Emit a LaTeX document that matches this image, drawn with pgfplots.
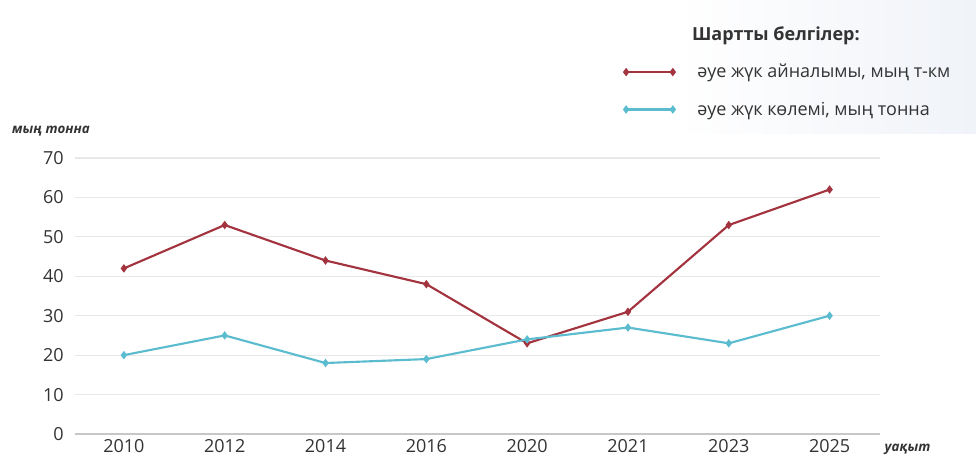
\documentclass[border=0pt]{standalone}
\usepackage{fontspec}
\setmainfont{Open Sans}
\usepackage{pgfplots}
\pgfplotsset{compat=1.18}

\definecolor{turnred}{HTML}{A3343F}
\definecolor{volblue}{HTML}{5CBCCF}
\definecolor{gridgray}{HTML}{E8E8E8}
\definecolor{ticktext}{HTML}{333333}
\definecolor{panel}{HTML}{F0F3F8}

\begin{document}
\begin{tikzpicture}
    % page = 976x459 px, 1px = 0.75pt, origin at lower left of the plot box
    \useasboundingbox (-56.25pt,-19pt) rectangle (675.75pt,325.5pt);
    \shade[left color=white, right color=panel] (450pt,225pt) rectangle (675.75pt,325.5pt);
    \begin{axis}[
        scale only axis,
        width=603.75pt, height=207pt,
        xmin=-0.485, xmax=7.5,
        ymin=0, ymax=70,
        xtick={0,...,7},
        xticklabels={2010,2012,2014,2016,2020,2021,2023,2025},
        ytick={0,10,...,70},
        ymajorgrids,
        grid style={gridgray, line width=0.8pt},
        axis x line*=bottom,
        axis y line*=left,
        x axis line style={draw=black!22, line width=1pt, -},
        y axis line style={draw=none},
        major tick length=0pt,
        tick label style={font=\fontsize{13.5}{15}\selectfont, text=ticktext},
        xticklabel style={inner sep=1.2pt, yshift=-3pt},
        yticklabel style={xshift=-5pt},
        /pgf/number format/assume math mode=true,
        xlabel={\fontsize{10}{12}\selectfont\bfseries\itshape уақыт},
        every axis x label/.style={at={(rel axis cs:1.003,-0.055)}, anchor=west, text=ticktext, inner sep=1.5pt},
        ylabel={\fontsize{10}{12}\selectfont\bfseries\itshape мың тонна},
        every axis y label/.style={at={(rel axis cs:-0.084,1.098)}, anchor=west, text=ticktext},
        legend style={
            at={(rel axis cs:0.677,1.497)}, anchor=north west,
            draw=none, fill=none,
            font=\fontsize{13.5}{16}\selectfont,
            row sep=12.5pt,
            text=ticktext,
        },
        legend cell align=left,
        legend image code/.code={\draw[#1, mark repeat=1] plot coordinates {(0pt,0pt) (35pt,0pt)};},
        every axis plot/.append style={line width=1.6pt, mark=diamond*, mark size=1.9pt},
    ]
        \addlegendimage{empty legend}
        \addlegendentry{\hspace*{11pt}\bfseries Шартты белгілер:}

        \addplot[turnred, mark options={fill=turnred, draw=turnred}] coordinates {
            (0,42) (1,53) (2,44) (3,38) (4,23) (5,31) (6,53) (7,62)
        };
        \addlegendentry{\hspace*{15pt}әуе жүк айналымы, мың т-км}

        \addplot[volblue, mark options={fill=volblue, draw=volblue}] coordinates {
            (0,20) (1,25) (2,18) (3,19) (4,24) (5,27) (6,23) (7,30)
        };
        \addlegendentry{\hspace*{15pt}әуе жүк көлемі, мың тонна}
    \end{axis}
\end{tikzpicture}
\end{document}
